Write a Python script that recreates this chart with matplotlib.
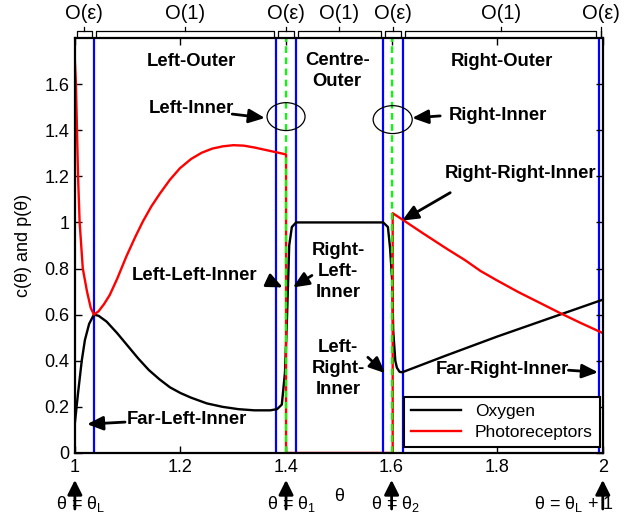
import numpy as np
import matplotlib.pyplot as plt
import matplotlib.transforms as mtransforms
from matplotlib.patches import Ellipse

plt.rcParams['font.family'] = ['Liberation Sans', 'DejaVu Sans']

# oxygen concentration c(theta)
theta_c = [1.0, 1.006, 1.013, 1.019, 1.027, 1.036, 1.045, 1.06, 1.08, 1.10,
           1.12, 1.14, 1.16, 1.18, 1.20, 1.22, 1.25, 1.28, 1.31, 1.34, 1.37,
           1.383, 1.392, 1.398, 1.402, 1.406, 1.411, 1.419, 1.50, 1.584,
           1.593, 1.597, 1.601, 1.603, 1.607, 1.610, 1.615, 1.62, 1.70,
           1.80, 1.90, 2.0]
oxygen = [0.13, 0.26, 0.40, 0.49, 0.56, 0.60, 0.595, 0.57, 0.52, 0.465,
          0.41, 0.36, 0.32, 0.285, 0.26, 0.24, 0.215, 0.20, 0.19, 0.185, 0.185,
          0.19, 0.21, 0.35, 0.60, 0.90, 0.98, 1.0, 1.0, 1.0,
          0.98, 0.89, 0.75, 0.53, 0.40, 0.37, 0.352, 0.35, 0.42,
          0.505, 0.585, 0.665]

# photoreceptor density p(theta), zero in the centre region
theta_p = [1.0, 1.002, 1.004, 1.006, 1.009, 1.015, 1.023, 1.030, 1.036,
           1.045, 1.055, 1.066, 1.08, 1.098, 1.115, 1.129, 1.145, 1.161, 1.18,
           1.199, 1.22, 1.24, 1.26, 1.28, 1.30, 1.32, 1.34, 1.36, 1.38, 1.40,
           1.40, 1.602, 1.602, 1.622, 1.66, 1.705, 1.74, 1.768, 1.80, 1.84,
           1.88, 1.919, 1.96, 2.0]
photo = [1.70, 1.60, 1.40, 1.20, 1.00, 0.80, 0.70, 0.63, 0.60,
         0.615, 0.645, 0.685, 0.755, 0.855, 0.94, 1.005, 1.07, 1.125, 1.185,
         1.235, 1.275, 1.302, 1.32, 1.33, 1.335, 1.333, 1.325, 1.315, 1.305, 1.295,
         0.0, 0.0, 1.04, 1.01, 0.952, 0.885, 0.835, 0.79, 0.748, 0.698,
         0.652, 0.607, 0.562, 0.52]

# region boundaries and inner-layer centres
boundaries = [1.036, 1.381, 1.419, 1.583, 1.621, 1.992]
inner_centres = [1.4, 1.6]
brace_edges = [1.0, 1.036, 1.381, 1.419, 1.583, 1.621, 1.992, 2.0]
brace_labels = ['O(ε)', 'O(1)', 'O(ε)', 'O(1)', 'O(ε)', 'O(1)', 'O(ε)']

fig = plt.figure(figsize=(6.24, 5.29), dpi=100)
ax = fig.add_axes([0.120, 0.1437, 0.846, 0.7845])

for b in boundaries:
    ax.axvline(b, color='#0000ff', lw=1.6, zorder=1)
ax.plot(theta_c, oxygen, color='k', lw=1.7, label='Oxygen', zorder=3)
ax.plot(theta_p, photo, color='#ff0000', lw=1.7, label='Photoreceptors', zorder=3)
for g in inner_centres:
    ax.axvline(g, color='#00ff00', lw=1.6, ls=(0, (3, 2)), zorder=4)

ax.set_xlim(1, 2)
ax.set_ylim(0, 1.8)
ax.set_xticks([1, 1.2, 1.4, 1.6, 1.8, 2])
ax.set_xticklabels(['1', '1.2', '1.4', '1.6', '1.8', '2'])
ax.set_yticks([0, 0.2, 0.4, 0.6, 0.8, 1, 1.2, 1.4, 1.6])
ax.set_yticklabels(['0', '0.2', '0.4', '0.6', '0.8', '1', '1.2', '1.4', '1.6'])
ax.tick_params(direction='in', length=5, width=1, top=True, right=True,
               labelsize=13, pad=4)
for s in ax.spines.values():
    s.set_linewidth(1.6)
    s.set_zorder(5)

ax.set_xlabel('θ', fontsize=13)
ax.xaxis.set_label_coords(0.5, -0.085)
ax.set_ylabel('c(θ) and p(θ)', fontsize=13)
ax.yaxis.set_label_coords(-0.081, 0.5)

leg = ax.legend(loc='lower right', bbox_to_anchor=(0.994, 0.014), borderaxespad=0,
                fancybox=False, framealpha=1, edgecolor='k', fontsize=12.5,
                handlelength=2.9, borderpad=0.4, labelspacing=0.35)
leg.get_frame().set_linewidth(1.5)

# boundary-layer ellipses
ax.add_patch(Ellipse((1.4, 1.459), 0.072, 0.121, fill=False, lw=0.9, ec='k', zorder=6))
ax.add_patch(Ellipse((1.602, 1.446), 0.074, 0.121, fill=False, lw=0.9, ec='k', zorder=6))

bold = dict(fontsize=13.3, fontweight='bold', ha='center', va='center', linespacing=1.3)
ax.text(1.220, 1.699, 'Left-Outer', **bold)
ax.text(1.497, 1.656, 'Centre-\nOuter', **bold)
ax.text(1.809, 1.699, 'Right-Outer', **bold)
ax.text(1.220, 1.492, 'Left-Inner', **bold)
ax.text(1.802, 1.462, 'Right-Inner', **bold)
ax.text(1.844, 1.211, 'Right-Right-Inner', **bold)
ax.text(1.226, 0.770, 'Left-Left-Inner', **bold)
ax.text(1.499, 0.787, 'Right-\nLeft-\nInner', **bold)
ax.text(1.499, 0.368, 'Left-\nRight-\nInner', **bold)
ax.text(1.809, 0.363, 'Far-Right-Inner', **bold)
ax.text(1.212, 0.147, 'Far-Left-Inner', **bold)

arrow = dict(arrowstyle='-|>,head_length=0.8,head_width=0.35', color='k', lw=2,
             mutation_scale=12, shrinkA=0, shrinkB=0)
pointers = [((1.298, 1.470), (1.360, 1.453)),
            ((1.692, 1.462), (1.639, 1.453)),
            ((1.711, 1.129), (1.620, 1.008)),
            ((1.366, 0.748), (1.394, 0.718)),
            ((1.449, 0.770), (1.413, 0.718)),
            ((1.555, 0.415), (1.588, 0.346)),
            ((1.935, 0.359), (1.991, 0.350)),
            ((1.095, 0.134), (1.023, 0.125))]
for tail, tip in pointers:
    ax.annotate('', xy=tip, xytext=tail, arrowprops=arrow, zorder=7)

# order-of-magnitude braces above the axes
trans = mtransforms.blended_transform_factory(ax.transData, ax.transAxes)
for i, lab in enumerate(brace_labels):
    a = brace_edges[i] + 0.004
    b = brace_edges[i + 1] - 0.004
    m = 0.5 * (a + b)
    ax.plot([a, a, b, b], [1.005, 1.017, 1.017, 1.005], color='k', lw=0.9,
            transform=trans, clip_on=False)
    ax.plot([m, m], [1.017, 1.027], color='k', lw=0.9, transform=trans, clip_on=False)
    ax.text(m, 1.06, lab, fontsize=14.5, ha='center', va='center',
            transform=trans, clip_on=False)

# marked positions below the axis
marks = [(1.0, 1.010, 'θ = θ$_\\mathregular{L}$'),
         (1.4, 1.410, 'θ = θ$_\\mathregular{1}$'),
         (1.6, 1.607, 'θ = θ$_\\mathregular{2}$'),
         (2.0, 1.945, 'θ = θ$_\\mathregular{L}$ + 1')]
for xm, xt, lab in marks:
    ax.text(xt, -0.123, lab, fontsize=13, ha='center', va='center',
            transform=trans, clip_on=False)
    ax.annotate('', xy=(xm, -0.065), xytext=(xm, -0.135), xycoords=trans,
                textcoords=trans, annotation_clip=False,
                arrowprops=dict(arrowstyle='-|>,head_length=0.8,head_width=0.4',
                                color='k', lw=2, mutation_scale=11,
                                shrinkA=0, shrinkB=0))

fig.savefig('out.png', dpi=100)
